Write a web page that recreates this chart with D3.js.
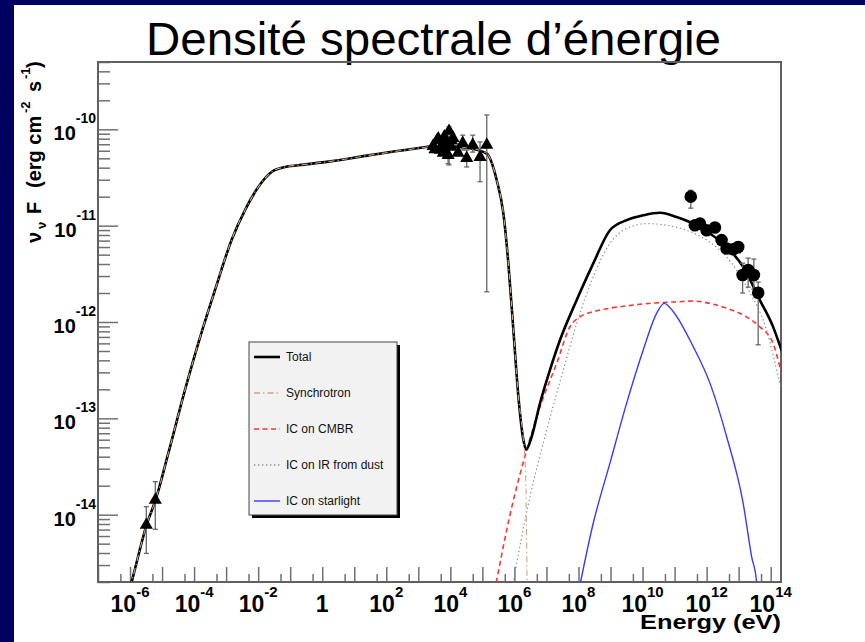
<!DOCTYPE html>
<html>
<head>
<meta charset="utf-8">
<script src="https://cdn.jsdelivr.net/npm/d3@7"></script>
<style>
  body { margin: 0; background: #000060; }
  svg { display: block; }
</style>
</head>
<body>
<svg width="865" height="642"></svg>
<script>
// ---- data (energy in eV, nuFnu in erg cm^-2 s^-1) ----
const totalCurve = [
  [7.9e-7, 1.3e-15], [1.13e-6, 2.02e-15], [3.31e-6, 7.9e-15], [6.3e-6, 1.43e-14],
  [1.57e-5, 4.35e-14], [5.2e-5, 1.97e-13], [1.35e-4, 6.0e-13], [4.5e-4, 2.15e-12],
  [1.48e-3, 7.1e-12], [3.88e-3, 1.45e-11], [1.01e-2, 2.52e-11], [2.62e-2, 3.61e-11],
  [6.9e-2, 4.07e-11], [0.178, 4.24e-11], [1.78, 4.65e-11], [31.4, 5.4e-11],
  [556, 6.2e-11], [4.8e3, 6.75e-11], [4.13e4, 6.35e-11], [1.37e5, 5.6e-11],
  [2.81e5, 2.96e-11], [4.52e5, 1.34e-11], [6.47e5, 4.06e-12], [9.27e5, 8.3e-13],
  [1.33e6, 1.68e-13], [1.9e6, 5.99e-14], [2.31e6, 4.72e-14], [3.47e6, 6.48e-14],
  [6.31e6, 1.44e-13], [1.29e7, 3.19e-13], [2.65e7, 6.5e-13], [8.8e7, 1.69e-12],
  [2.9e8, 4.06e-12], [9.6e8, 8.97e-12], [3.19e9, 1.14e-11], [1.05e10, 1.28e-11],
  [3.49e10, 1.36e-11], [1.16e11, 1.23e-11], [3.82e11, 1.05e-11], [1.27e12, 8.3e-12],
  [4.2e12, 6.03e-12], [1.38e13, 3.74e-12], [4.59e13, 1.69e-12], [1.19e14, 8.9e-13],
  [2.18e14, 5.1e-13], [4e14, 2.9e-13]
];
const synchCurve = [
  [7.9e-7, 1.3e-15], [1.13e-6, 2.02e-15], [3.31e-6, 7.9e-15], [6.3e-6, 1.43e-14],
  [1.57e-5, 4.35e-14], [5.2e-5, 1.97e-13], [1.35e-4, 6.0e-13], [4.5e-4, 2.15e-12],
  [1.48e-3, 7.1e-12], [3.88e-3, 1.45e-11], [1.01e-2, 2.52e-11], [2.62e-2, 3.61e-11],
  [6.9e-2, 4.07e-11], [0.178, 4.24e-11], [1.78, 4.65e-11], [31.4, 5.4e-11],
  [556, 6.2e-11], [4.8e3, 6.75e-11], [4.13e4, 6.35e-11], [1.37e5, 5.6e-11],
  [2.81e5, 2.96e-11], [4.52e5, 1.34e-11], [6.47e5, 4.06e-12], [9.27e5, 8.3e-13],
  [1.33e6, 1.68e-13], [1.9e6, 5.99e-14], [2.22e6, 2.92e-14], [2.36e6, 8.9e-15],
  [2.48e6, 1.67e-15]
];
const cmbrCurve = [
  [2.16e5, 1.32e-15], [7.31e5, 1.0e-14], [2.43e6, 4.72e-14], [6.31e6, 1.32e-13],
  [2.09e7, 3.73e-13], [5.44e7, 8.93e-13], [1.11e8, 1.13e-12], [2.9e8, 1.28e-12],
  [9.6e8, 1.39e-12], [3.19e9, 1.47e-12], [1.05e10, 1.54e-12], [3.49e10, 1.59e-12],
  [1.16e11, 1.62e-12], [3.82e11, 1.65e-12], [1.27e12, 1.56e-12], [4.2e12, 1.39e-12],
  [1.38e13, 1.18e-12], [4.59e13, 8.9e-13], [1.19e14, 6.0e-13], [2.2e14, 2.9e-13],
  [4e14, 1.3e-13]
];
const irCurve = [
  [7.31e5, 1.32e-15], [3.08e6, 1.55e-14], [1.02e7, 7.6e-14], [3.36e7, 3.19e-13],
  [8.8e7, 9.7e-13], [2.9e8, 2.95e-12], [9.6e8, 6.54e-12], [3.19e9, 9.35e-12],
  [1.34e10, 1.05e-11], [5.65e10, 1.01e-11], [2.38e11, 8.97e-12], [1e12, 7.08e-12],
  [4.2e12, 4.75e-12], [1.77e13, 2.32e-12], [7.43e13, 8.26e-13], [1.93e14, 2.32e-13],
  [4e14, 8.9e-14]
];
const starlightCurve = [
  [9.0e7, 1.32e-15], [2.9e8, 8.2e-15], [9.6e8, 3.43e-14], [3.19e9, 1.44e-13],
  [1.05e10, 5.13e-13], [2.75e10, 1.23e-12], [4.75e10, 1.56e-12], [9.08e10, 1.28e-12],
  [3.82e11, 5.55e-13], [1.27e12, 2.32e-13], [4.2e12, 6.48e-14], [1.38e13, 1.32e-14],
  [2.53e13, 3.7e-15], [3.62e13, 2.02e-15], [3.97e13, 1.32e-15]
];

// points: [E, F, Flow, Fhigh] (null = no visible bar)
const radioPoints = [
  [3.22e-6, 7.8e-15, 3.96e-15, 1.21e-14],
  [6.15e-6, 1.42e-14, 7.05e-15, 2.2e-14]
];
const xrayPoints = [
  [2.88e3, 6.7e-11, null, null], [3.3e3, 6.2e-11, null, null], [3.84e3, 7.7e-11, null, null],
  [4.2e3, 8.0e-11, null, null], [4.76e3, 6.1e-11, null, null], [5.4e3, 6.6e-11, null, null],
  [5.91e3, 7.2e-11, null, null], [6.0e3, 5.7e-11, null, null], [6.5e3, 8.4e-11, null, null],
  [7.33e3, 5.8e-11, null, null], [8.0e3, 7.0e-11, null, null], [8.5e3, 5.4e-11, 4.4e-11, 6.4e-11],
  [9.1e3, 9.6e-11, 4.27e-11, 1.06e-10], [1.05e4, 6.55e-11, null, null], [1.1e4, 7.6e-11, null, null],
  [1.21e4, 8.1e-11, null, null], [1.74e4, 5.7e-11, null, null],
  [2.43e4, 7.2e-11, 6.1e-11, 8.7e-11], [3.24e4, 5.03e-11, 4.07e-11, 6.1e-11],
  [5.0e4, 6.9e-11, 5.8e-11, 8.7e-11], [8.45e4, 5.15e-11, 2.86e-11, 7.4e-11],
  [1.37e5, 6.9e-11, 2.06e-12, 1.41e-10]
];
const gammaPoints = [
  [3.2e11, 2.0e-11, 1.52e-11, 2.33e-11], [4.3e11, 1.01e-11, 9.2e-12, 1.1e-11],
  [6.2e11, 1.05e-11, 9.5e-12, 1.15e-11], [1.0e12, 8.97e-12, 8.2e-12, 9.8e-12],
  [1.82e12, 9.57e-12, 8.7e-12, 1.05e-11], [2.93e12, 7.08e-12, 6.4e-12, 7.8e-12],
  [4.2e12, 5.8e-12, 5.2e-12, 6.5e-12], [6.75e12, 5.7e-12, 5.0e-12, 6.4e-12],
  [9.7e12, 6.0e-12, 5.2e-12, 6.8e-12], [1.33e13, 3.07e-12, 2.0e-12, 4.08e-12],
  [1.98e13, 3.46e-12, 2.3e-12, 4.6e-12], [2.99e13, 3.07e-12, 2.2e-12, 4.5e-12],
  [4.07e13, 2.01e-12, 5.8e-13, 2.6e-12]
];

const xLabelExponents = [-6, -4, -2, 0, 2, 4, 6, 8, 10, 12, 14];
const yLabelExponents = [-14, -13, -12, -11, -10];
const legendLabels = ['Total', 'Synchrotron', 'IC on CMBR', 'IC on IR from dust', 'IC on starlight'];
const titleText = 'Densité spectrale d’énergie';

// ---- drawing ----
const svg = d3.select('svg');
const width = +svg.attr('width');
const height = +svg.attr('height');
const font = "'Liberation Sans', Arial, Helvetica, sans-serif";

// slide background
svg.append('rect').attr('width', width).attr('height', height).attr('fill', '#000060');
svg.append('rect').attr('x', 14).attr('y', 5)
    .attr('width', width - 14).attr('height', height - 5).attr('fill', 'white');

svg.append('text')
    .attr('x', 433.5).attr('y', 55)
    .attr('text-anchor', 'middle')
    .attr('font-family', font).attr('font-size', 47)
    .attr('textLength', 575).attr('lengthAdjust', 'spacingAndGlyphs')
    .text(titleText);

const plot = { left: 98, right: 781, top: 62, bottom: 582 };
const x = d3.scaleLog().domain([1e-7, 2.1e14]).range([plot.left, plot.right]);
const y = d3.scaleLog().domain([2e-15, 5e-10]).range([plot.bottom, plot.top]);

// ticks (inward, ROOT style)
const xMajor = d3.range(-7, 15).map(e => Math.pow(10, e)).filter(v => v >= 1e-7 && v <= 2.1e14);
const xMinor = d3.range(-7, 15).map(e => 5 * Math.pow(10, e)).filter(v => v <= 2.1e14);
const yMajor = d3.range(-15, -9).map(e => Math.pow(10, e)).filter(v => v >= 2e-15 && v <= 5e-10);
const yMinor = [];
d3.range(-15, -9).forEach(e => {
  d3.range(2, 10).forEach(m => {
    const v = m * Math.pow(10, e);
    if (v >= 2e-15 && v <= 5e-10) yMinor.push(v);
  });
});

function tickAxis(axis, tx, ty) {
  const g = svg.append('g').attr('transform', `translate(${tx},${ty})`).call(axis);
  g.select('.domain').remove();
  g.selectAll('.tick line').attr('stroke', '#707070').attr('stroke-width', 1.5);
  g.selectAll('.tick text').remove();
  return g;
}
tickAxis(d3.axisBottom(x).tickValues(xMajor).tickSize(-15).tickFormat(''), 0, plot.bottom);
tickAxis(d3.axisBottom(x).tickValues(xMinor).tickSize(-8).tickFormat(''), 0, plot.bottom);
tickAxis(d3.axisLeft(y).tickValues(yMajor).tickSize(-20).tickFormat(''), plot.left, 0);
tickAxis(d3.axisLeft(y).tickValues(yMinor).tickSize(-12).tickFormat(''), plot.left, 0);

// frame
svg.append('rect')
    .attr('x', plot.left).attr('y', plot.top)
    .attr('width', plot.right - plot.left).attr('height', plot.bottom - plot.top)
    .attr('fill', 'none').attr('stroke', '#606060').attr('stroke-width', 2);

// tick labels
xLabelExponents.forEach(e => {
  const t = svg.append('text')
      .attr('x', x(Math.pow(10, e))).attr('y', 611.5)
      .attr('text-anchor', 'middle')
      .attr('font-family', font).attr('font-weight', 'bold').attr('font-size', 23);
  if (e === 0) {
    t.text('1');
  } else {
    t.append('tspan').text('10');
    t.append('tspan').attr('dy', -14.5).attr('font-size', 15).text(e);
  }
});
yLabelExponents.forEach(e => {
  const t = svg.append('text')
      .attr('x', 96).attr('y', y(Math.pow(10, e)) + 11)
      .attr('text-anchor', 'end')
      .attr('font-family', font).attr('font-weight', 'bold').attr('font-size', 20);
  t.append('tspan').text('10');
  t.append('tspan').attr('dy', -17).attr('font-size', 14).text(e);
});

// axis titles
svg.append('text')
    .attr('x', plot.right).attr('y', 629)
    .attr('text-anchor', 'end')
    .attr('font-family', font).attr('font-weight', 'bold').attr('font-size', 21)
    .attr('textLength', 141).attr('lengthAdjust', 'spacingAndGlyphs')
    .text('Energy (eV)');

const yTitle = svg.append('g').attr('transform', 'translate(41,0) rotate(-90)')
  .append('text')
    .attr('font-family', font).attr('font-weight', 'bold').attr('font-size', 20);
yTitle.append('tspan').attr('x', -243).attr('y', 0).text('ν');
yTitle.append('tspan').attr('x', -229).attr('y', 5).attr('font-size', 13).text('ν');
yTitle.append('tspan').attr('x', -214).attr('y', 0).text('F');
yTitle.append('tspan').attr('x', -188).attr('y', 0).text('(erg cm');
yTitle.append('tspan').attr('x', -113).attr('y', -11).attr('font-size', 13).text('-2');
yTitle.append('tspan').attr('x', -92).attr('y', 0).text('s');
yTitle.append('tspan').attr('x', -79).attr('y', -11).attr('font-size', 13).text('-1');
yTitle.append('tspan').attr('x', -68).attr('y', 0).text(')');

// curves
svg.append('clipPath').attr('id', 'plotClip')
  .append('rect')
    .attr('x', plot.left).attr('y', plot.top)
    .attr('width', plot.right - plot.left).attr('height', plot.bottom - plot.top);

const curves = svg.append('g').attr('clip-path', 'url(#plotClip)');
const line = d3.line()
    .x(d => x(d[0]))
    .y(d => y(d[1]))
    .curve(d3.curveMonotoneX);

const styles = {
  total: { stroke: '#000', width: 2.6, dash: null },
  synch: { stroke: '#c9a882', width: 1.1, dash: '6,3,1.5,3' },
  cmbr: { stroke: '#ff3535', width: 1.6, dash: '5,3.5' },
  ir: { stroke: '#8a8a8a', width: 1.2, dash: '1.3,2.7' },
  star: { stroke: '#3a3aff', width: 1.4, dash: null }
};

function drawCurve(data, st) {
  curves.append('path')
      .attr('d', line(data))
      .attr('fill', 'none')
      .attr('stroke', st.stroke)
      .attr('stroke-width', st.width)
      .attr('stroke-dasharray', st.dash);
}
drawCurve(irCurve, styles.ir);
drawCurve(cmbrCurve, styles.cmbr);
drawCurve(starlightCurve, styles.star);
drawCurve(totalCurve, styles.total);
drawCurve(synchCurve, styles.synch);

// data points
const pts = svg.append('g');
function errorBars(data) {
  data.filter(d => d[2] !== null).forEach(d => {
    const cx = x(d[0]);
    const y0 = y(d[2]);
    const y1 = y(d[3]);
    pts.append('line').attr('x1', cx).attr('x2', cx).attr('y1', y0).attr('y2', y1)
        .attr('stroke', '#666').attr('stroke-width', 1.3);
    [y0, y1].forEach(yy => {
      pts.append('line').attr('x1', cx - 2.5).attr('x2', cx + 2.5).attr('y1', yy).attr('y2', yy)
          .attr('stroke', '#666').attr('stroke-width', 1.3);
    });
  });
}
errorBars(radioPoints);
errorBars(xrayPoints);
errorBars(gammaPoints);

const tri = d3.symbol().type(d3.symbolTriangle).size(75);
pts.selectAll('.tri')
  .data(radioPoints.concat(xrayPoints))
  .enter().append('path')
    .attr('d', tri)
    .attr('transform', d => `translate(${x(d[0])},${y(d[1])})`)
    .attr('fill', 'black');

pts.selectAll('.dot')
  .data(gammaPoints)
  .enter().append('circle')
    .attr('cx', d => x(d[0]))
    .attr('cy', d => y(d[1]))
    .attr('r', 6.3)
    .attr('fill', 'black');

// legend
const legend = svg.append('g').attr('transform', 'translate(249,342)');
legend.append('rect').attr('x', 3).attr('y', 3).attr('width', 148).attr('height', 173).attr('fill', 'black');
legend.append('rect').attr('width', 148).attr('height', 173)
    .attr('fill', '#f2f2f2').attr('stroke', '#444').attr('stroke-width', 1);

const legendStyles = [styles.total, styles.synch, styles.cmbr, styles.ir, styles.star];
legendLabels.forEach((label, i) => {
  const ly = 15 + i * 36;
  const st = legendStyles[i];
  legend.append('line')
      .attr('x1', 5).attr('x2', 31).attr('y1', ly).attr('y2', ly)
      .attr('stroke', st.stroke)
      .attr('stroke-width', i === 0 ? 2.6 : 1.4)
      .attr('stroke-dasharray', st.dash);
  legend.append('text')
      .attr('x', 37).attr('y', ly + 4)
      .attr('font-family', font).attr('font-size', 12)
      .attr('fill', '#111')
      .text(label);
});
</script>
</body>
</html>
